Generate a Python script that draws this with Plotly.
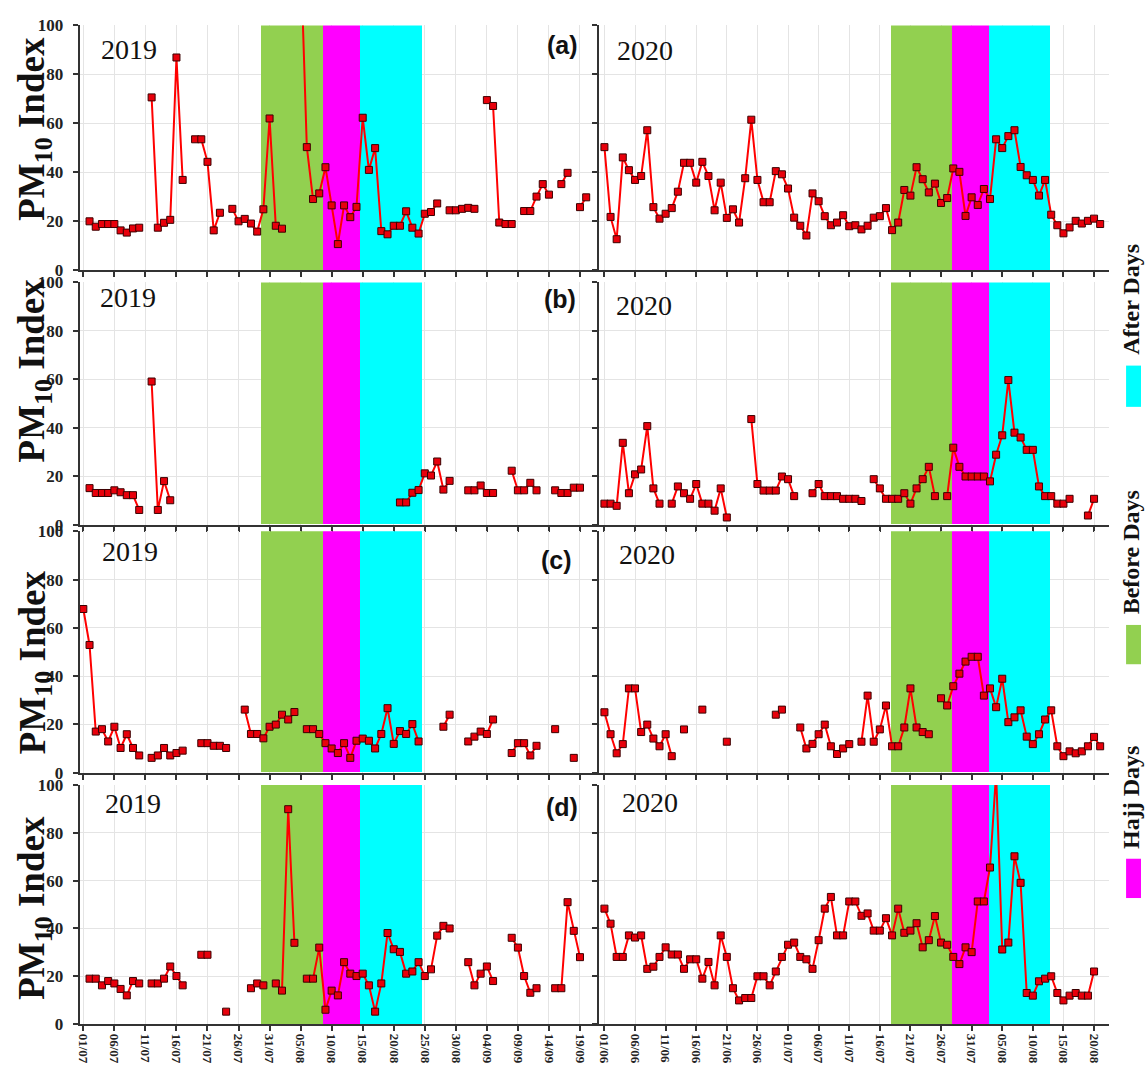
import plotly.graph_objects as go

W, H = 1147, 1077
N = None

# ---------------- data ----------------
tick_days = list(range(0, 81, 5))
tick_labels_2019 = ["01/07", "06/07", "11/07", "16/07", "21/07", "26/07", "31/07", "05/08", "10/08",
                    "15/08", "20/08", "25/08", "30/08", "04/09", "09/09", "14/09", "19/09"]
tick_labels_2020 = ["01/06", "06/06", "11/06", "16/06", "21/06", "26/06", "01/07", "06/07", "11/07",
                    "16/07", "21/07", "26/07", "31/07", "05/08", "10/08", "15/08", "20/08"]

# daily PM10 index, 2019 starts 01/07, 2020 starts 01/06 (None = missing day)
pm10_2019_a = [N, 20, 17.8, 18.9, 18.9, 18.9, 16.3, 15.4, 17.1, 17.4, N, 70.6, 17.4, 19.4, 20.6, 86.9, 36.9, N,
               53.5, 53.5, 44.3, 16.3, 23.5, N, 25.1, 20.0, 21.0, 19.1, 15.8, 24.9, 62.0, 18.2, 17.0, N, N,
               130, 50.3, 29.1, 31.4, 42.1, 26.5, 10.7, 26.5, 21.7, 25.9, 62.3, 41.0, 49.9, 16.0, 14.7, 18.2,
               18.2, 24.1, 17.4, 15.0, 23.1, 23.8, 27.3, N, 24.5, 24.5, 25.1, 25.5, 25.1, N, 69.5, 67.1, 19.5,
               18.9, 18.9, N, 24.2, 24.2, 30.1, 35.2, 30.9, N, 35.2, 39.8, N, 25.8, 29.8]
pm10_2019_b = [N, 15.1, 13.1, 13.1, 13.1, 14.2, 13.4, 12.2, 12.2, 6.1, N, 59.1, 6.1, 18.0, 10.1,
               N, N, N, N, N, N, N, N, N, N, N, N, N, N, N, N, N, N, N, N, N, N, N, N, N, N, N, N, N, N, N,
               N, N, N, N, N, 9.2, 9.2, 13.2, 14.3, 21.2, 20.3, 26.1, 14.5, 18.1, N, N, 14.2, 14.2, 16.2,
               13.1, 13.1, N, N, 22.3, 14.2, 14.2, 17.3, 14.2, N, N, 14.2, 13.1, 13.1, 15.3, 15.3]
pm10_2019_c = [67.8, 52.9, 17.0, 18.0, 12.9, 19.0, 10.2, 15.9, 10.2, 7.1, N, 6.1, 7.1, 10.2, 7.1, 8.1, 9.1,
               N, N, 12.2, 12.2, 11.1, 11.1, 10.2, N, N, 26.1, 16.0, 16.0, 14.2, 19.0, 19.9, 24.0, 22.0,
               25.1, N, 18.0, 18.0, 16.0, 12.2, 10.0, 8.1, 12.2, 6.1, 13.2, 14.1, 13.2, 10.0, 16.0, 26.7,
               11.9, 17.2, 16.0, 20.1, 12.9, N, N, N, 19.0, 24.0, N, N, 12.9, 14.9, 17.0, 16.0, 22.0, N, N,
               8.1, 12.2, 12.2, 7.1, 11.1, N, N, 18.0, N, N, 6.1]
pm10_2019_d = [N, 19.0, 19.0, 16.2, 18.0, 17.0, 14.7, 12.0, 18.0, 17.0, N, 17.0, 17.0, 19.0, 24.1, 20.1, 16.2,
               N, N, 29.0, 29.0, N, N, 5.2, N, N, N, 15.0, 17.0, 16.2, N, 17.0, 14.0, 89.9, 34.0, N, 19.0,
               19.0, 32.0, 6.0, 14.0, 12.0, 25.9, 21.1, 20.1, 21.1, 16.2, 5.2, 17.0, 38.1, 31.3, 30.2, 21.1,
               22.0, 25.9, 20.1, 22.9, 37.0, 41.1, 40.0, N, N, 25.9, 16.2, 21.1, 24.1, 18.0, N, N, 36.1,
               32.0, 20.1, 13.1, 15.0, N, N, 15.0, 15.0, 51.0, 39.0, 28.0]

pm10_2020_a = [50.3, 21.8, 12.7, 46.1, 40.9, 36.9, 38.5, 57.2, 25.8, 21.1, 23.1, 25.4, 32.1, 43.9, 43.9, 35.8,
               44.3, 38.5, 24.5, 35.8, 21.4, 24.9, 19.5, 37.6, 61.5, 36.9, 27.8, 27.8, 40.5, 39.2, 33.4, 21.5,
               18.2, 14.2, 31.4, 28.2, 22.1, 18.4, 19.5, 22.5, 18.0, 18.4, 16.7, 18.2, 21.5, 22.1, 25.4, 16.4,
               19.5, 32.8, 30.5, 42.1, 37.2, 31.8, 35.4, 27.5, 29.5, 41.6, 40.2, 22.2, 29.8, 26.7, 33.2, 29.1,
               53.5, 49.9, 54.8, 57.2, 42.2, 38.8, 36.9, 30.5, 36.9, 22.7, 18.4, 15.1, 17.5, 20.2, 19.1, 20.2,
               21.1, 18.9]
pm10_2020_b = [8.7, 8.7, 7.8, 33.8, 13.0, 20.8, 22.8, 40.7, 15.0, 8.7, N, 8.7, 15.8, 13.0, 10.7, 16.8, 8.7,
               8.7, 5.8, 15.0, 3.0, N, N, N, 43.6, 16.8, 14.1, 14.1, 14.1, 19.9, 18.8, 11.8, N, N, 13.0, 16.8,
               11.8, 11.8, 11.8, 10.7, 10.7, 10.7, 9.8, N, 18.8, 15.0, 10.7, 10.7, 10.7, 13.0, 8.7, 15.0,
               18.8, 23.9, 11.8, N, 11.8, 31.8, 23.9, 19.9, 19.9, 19.9, 19.9, 17.9, 28.9, 36.9, 59.7, 38.0,
               36.0, 30.9, 30.9, 15.8, 11.8, 11.8, 8.7, 8.7, 10.7, N, N, 3.8, 10.7]
pm10_2020_c = [25.0, 15.9, 8.0, 11.8, 34.9, 34.9, 16.8, 19.9, 14.1, 10.9, 15.9, 6.8, N, 17.9, N, N, 26.1, N,
               N, N, 12.8, N, N, N, N, N, N, N, 24.0, 26.1, N, N, 18.7, 10.0, 11.9, 15.9, 19.9, 10.9, 7.7,
               10.0, 11.8, N, 12.8, 31.9, 12.8, 17.9, 27.8, 10.9, 10.9, 18.7, 34.9, 18.7, 16.8, 15.9, N,
               30.8, 27.8, 35.8, 41.0, 46.0, 48.0, 48.0, 31.9, 34.9, 27.1, 38.9, 20.9, 22.9, 25.8, 14.9,
               11.8, 15.9, 22.0, 25.8, 10.9, 6.8, 8.8, 8.0, 8.8, 10.9, 14.8, 10.9]
pm10_2020_d = [48.3, 42.0, 28.1, 28.1, 37.1, 36.2, 37.1, 23.1, 24.0, 28.1, 32.1, 29.1, 29.1, 23.1, 27.1, 27.1,
               19.0, 26.0, 16.2, 37.1, 28.1, 15.0, 9.9, 10.9, 10.9, 20.0, 20.0, 16.2, 22.0, 28.1, 33.2, 34.1,
               28.1, 27.1, 23.1, 35.1, 48.3, 53.2, 37.1, 37.1, 51.3, 51.3, 45.3, 46.3, 39.1, 39.1, 44.3,
               37.1, 48.3, 38.2, 39.1, 42.2, 32.1, 35.1, 45.2, 34.1, 33.2, 28.1, 25.1, 32.1, 30.1, 51.3,
               51.3, 65.5, 105, 31.2, 34.1, 70.2, 59.1, 13.0, 11.9, 17.9, 19.0, 20.0, 13.0, 9.9, 11.9, 13.0,
               11.9, 11.9, 22.0]

series = [[pm10_2019_a, pm10_2020_a],
          [pm10_2019_b, pm10_2020_b],
          [pm10_2019_c, pm10_2020_c],
          [pm10_2019_d, pm10_2020_d]]
years = ["2019", "2020"]
panel_letters = ["(a)", "(b)", "(c)", "(d)"]

# period boundaries (day index): before-start, hajj-start, after-start, after-end
bounds_2019 = [28.5, 38.5, 44.5, 54.5]
bounds_2020 = [46.8, 56.8, 62.8, 72.8]
period_names = ["Before Days", "Hajj Days", "After Days"]
period_colors = ["#92d050", "#ff00ff", "#00ffff"]

# ---------------- layout geometry (pixels) ----------------
col_px = [(76, 597), (597, 1108.6)]
row_px = [(16.7, 266), (278.3, 525), (531.7, 777.3), (790, 1033.3)]
x_ranges = [(-0.58, 83.05), (-0.9, 82.4)]
tick_labels = [tick_labels_2019, tick_labels_2020]
bounds = [bounds_2019, bounds_2020]


def px_x(p):
    return p / W


def px_y(p):
    return 1 - p / H


SERIF = "Liberation Serif, Times New Roman, serif"
SANS = "Liberation Sans, Arial, sans-serif"
AXC = "#333333"

fig = go.Figure()
layout = dict(width=W, height=H, margin=dict(l=0, r=0, t=0, b=0, pad=0),
              paper_bgcolor="white", plot_bgcolor="white", showlegend=False,
              barmode="overlay", bargap=0)
shapes = []
annotations = []

for r in range(4):
    for c in range(2):
        k = r * 2 + c + 1
        sfx = "" if k == 1 else str(k)
        b = bounds[c]
        # shaded periods as full-height bars (drawn above the grid, below the series)
        fig.add_trace(go.Bar(
            x=[(b[i] + b[i + 1]) / 2 for i in range(3)],
            width=[b[i + 1] - b[i] for i in range(3)],
            y=[100, 100, 100], base=0, marker=dict(color=period_colors, line=dict(width=0)),
            opacity=1, xaxis="x" + sfx, yaxis="y" + sfx, hoverinfo="skip"))
        vals = series[r][c]
        xs = list(range(len(vals)))
        fig.add_trace(go.Scatter(
            x=xs, y=vals, mode="lines+markers", connectgaps=False,
            line=dict(color="#ff0000", width=2),
            marker=dict(symbol="square", size=7, color="#e8000b",
                        line=dict(color="#3a0000", width=1)),
            xaxis="x" + sfx, yaxis="y" + sfx, hoverinfo="skip"))
        layout["xaxis" + sfx] = dict(
            domain=[px_x(col_px[c][0]), px_x(col_px[c][1])], range=list(x_ranges[c]),
            anchor="y" + sfx, tickmode="array", tickvals=tick_days, ticktext=tick_labels[c],
            showticklabels=(r == 3), tickangle=90, ticks="outside", ticklen=5, tickwidth=1.5,
            tickcolor=AXC, showline=True, linecolor=AXC, linewidth=2, showgrid=True,
            gridcolor="#e4e4e4", gridwidth=1, zeroline=False,
            tickfont=dict(family=SERIF, size=13, color="#222", weight="bold"))
        layout["yaxis" + sfx] = dict(
            domain=[px_y(row_px[r][1]), px_y(row_px[r][0])], range=[0, 100],
            anchor="x" + sfx, tickmode="array", tickvals=[0, 20, 40, 60, 80, 100],
            showticklabels=(c == 0), ticks="outside", ticklen=5, tickwidth=1.5, tickcolor=AXC,
            ticklabelstandoff=6,
            showline=True, linecolor=AXC, linewidth=2, showgrid=True, gridcolor="#e4e4e4",
            gridwidth=1, zeroline=False,
            tickfont=dict(family=SERIF, size=17, color="#222", weight="bold"))

# year labels
year_pos = [[(125, 41), (643, 42)], [(124, 294), (642, 302)],
            [(126, 552), (645, 555)], [(129, 809), (648, 808)]]
letter_pos = [(560, 37), (558, 295), (554, 561), (560, 812)]
title_y = [122, 368, 665, 915]
for r in range(4):
    for c in range(2):
        xp, yp = year_pos[r][c]
        annotations.append(dict(text=years[c], x=px_x(xp), y=px_y(yp), xref="paper", yref="paper",
                                showarrow=False, xanchor="center", yanchor="middle",
                                font=dict(family=SERIF, size=28, color="#111")))
    xp, yp = letter_pos[r]
    annotations.append(dict(text="<b>" + panel_letters[r] + "</b>", x=px_x(xp), y=px_y(yp),
                            xref="paper", yref="paper", showarrow=False, xanchor="center",
                            yanchor="middle", font=dict(family=SANS, size=25, color="#111")))
    annotations.append(dict(text="<b>PM<sub>10</sub> Index</b>", x=px_x(31), y=px_y(title_y[r]),
                            xref="paper", yref="paper", showarrow=False, textangle=-90,
                            xanchor="center", yanchor="middle", borderpad=0,
                            font=dict(family=SERIF, size=37, color="#111")))

# legend (rotated labels with swatches)
legend_items = [("After Days", "#00ffff", 296, (363, 405)),
                ("Before Days", "#92d050", 553, (627, 667)),
                ("Hajj Days", "#ff00ff", 803, (865, 905))]
for name, col, ty, (s0, s1) in legend_items:
    annotations.append(dict(text="<b>" + name + "</b>", x=px_x(1131), y=px_y(ty), xref="paper",
                            yref="paper", showarrow=False, textangle=-90, xanchor="center",
                            yanchor="middle", borderpad=0,
                            font=dict(family=SERIF, size=24, color="#111")))
    shapes.append(dict(type="rect", xref="paper", yref="paper", x0=px_x(1126), x1=px_x(1141),
                       y0=px_y(s1), y1=px_y(s0), fillcolor=col, line=dict(width=0)))

layout["shapes"] = shapes
layout["annotations"] = annotations
fig.update_layout(**layout)
fig.write_html("out.html", config={"displayModeBar": False},
               post_script="document.body.style.margin='0';document.body.style.overflow='hidden';")
